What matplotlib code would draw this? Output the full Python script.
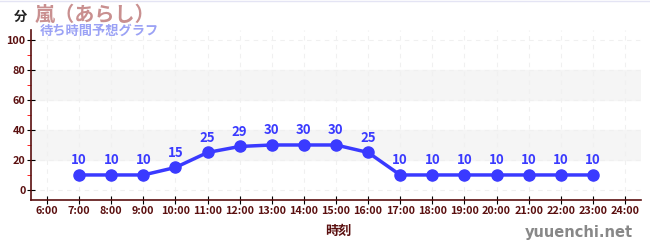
import matplotlib
matplotlib.use("Agg")
import matplotlib.pyplot as plt

plt.rcParams["font.family"] = ["Noto Sans CJK JP", "DejaVu Sans"]

hours = [7, 8, 9, 10, 11, 12, 13, 14, 15, 16, 17, 18, 19, 20, 21, 22, 23]
waits = [10, 10, 10, 15, 25, 29, 30, 30, 30, 25, 10, 10, 10, 10, 10, 10, 10]
tick_hours = list(range(6, 25))
tick_labels = [f"{h}:00" for h in tick_hours]

dark = "#5a0f0f"
blue = "#3a3aff"

fig = plt.figure(figsize=(6.5, 2.5), dpi=100)
ax = fig.add_axes([31 / 650, 0.2, 610 / 650, 0.68])

# alternating bands
ax.axhspan(20, 40, color="#f5f5f5", zorder=0)
ax.axhspan(60, 80, color="#f5f5f5", zorder=0)

ax.plot(hours, waits, color=blue, lw=2.5, marker="o", ms=8, zorder=3)
for h, w in zip(hours, waits):
    ax.text(h, w + 5, str(w), ha="center", va="bottom", color=blue,
            fontsize=9.5, fontweight="bold")

ax.set_xlim(5.5, 24.5)
ax.set_ylim(-6.7, 106.7)
ax.set_xticks(tick_hours)
ax.set_xticklabels(tick_labels)
ax.set_yticks(range(0, 101, 20))
ax.set_yticks(range(10, 100, 20), minor=True)

ax.grid(True, which="major", color="#f0f0f0", ls=(0, (4, 4)), lw=0.8)
ax.tick_params(axis="both", which="major", direction="inout", length=6,
               color="black", labelsize=7.8, labelcolor=dark, pad=1)
ax.tick_params(axis="y", which="minor", direction="out", length=3, color="red")
for lbl in ax.get_xticklabels() + ax.get_yticklabels():
    lbl.set_fontweight("bold")

for side in ["top", "right"]:
    ax.spines[side].set_visible(False)
for side in ["left", "bottom"]:
    ax.spines[side].set_color(dark)
    ax.spines[side].set_linewidth(1.2)

# thin line along the top edge
fig.add_artist(plt.Line2D([0, 1], [0.998, 0.998], color="#e4e4f4", lw=1))

fig.text(14 / 650, 1 - 17 / 250, "分", ha="left", va="center", color="#222222",
         fontsize=9.5, fontweight="bold")
fig.text(35 / 650, 1 - 14 / 250, "嵐（あらし）", ha="left", va="center",
         color="#c99090", fontsize=14.5, fontweight="bold")
fig.text(40 / 650, 1 - 31 / 250, "待ち時間予想グラフ", ha="left", va="center",
         color="#9ba2f5", fontsize=9.5, fontweight="bold")
fig.text(338 / 650, 1 - 231 / 250, "時刻", ha="center", va="center",
         color=dark, fontsize=9.5, fontweight="bold")
fig.text(633 / 650, 1 - 232 / 250, "yuuenchi.net", ha="right", va="center",
         color="#888888", fontsize=10.5, fontweight="bold",
         family=["DejaVu Sans"])

fig.savefig("out.png", dpi=100)
